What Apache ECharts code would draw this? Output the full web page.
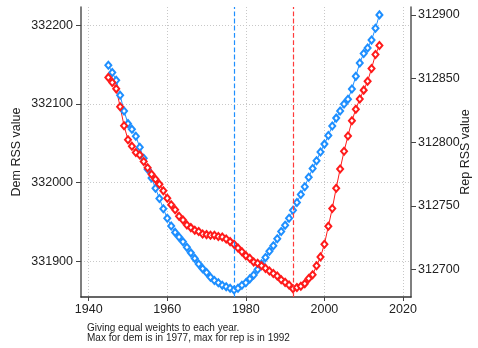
<!DOCTYPE html>
<html>
<head>
<meta charset="utf-8">
<script src="https://cdn.jsdelivr.net/npm/echarts@6/dist/echarts.min.js"></script>
<style>
html, body { margin: 0; padding: 0; background: #fff; }
#chart { width: 478px; height: 348px; }
</style>
</head>
<body>
<div id="chart"></div>
<script>
var years = [1945, 1946, 1947, 1948, 1949, 1950, 1951, 1952, 1953, 1954,
    1955, 1956, 1957, 1958, 1959, 1960, 1961, 1962, 1963, 1964,
    1965, 1966, 1967, 1968, 1969, 1970, 1971, 1972, 1973, 1974,
    1975, 1976, 1977, 1978, 1979, 1980, 1981, 1982, 1983, 1984,
    1985, 1986, 1987, 1988, 1989, 1990, 1991, 1992, 1993, 1994,
    1995, 1996, 1997, 1998, 1999, 2000, 2001, 2002, 2003, 2004,
    2005, 2006, 2007, 2008, 2009, 2010, 2011, 2012, 2013, 2014];

var demRss = [332149, 332140, 332130, 332111, 332091, 332075, 332068, 332059, 332045, 332031,
    332017, 332006, 331993, 331980, 331967, 331955, 331945, 331937, 331931, 331925,
    331918, 331911, 331904, 331897, 331891, 331886, 331880, 331876, 331873, 331870,
    331868, 331866, 331864, 331866, 331870, 331873, 331878, 331883, 331890, 331897,
    331905, 331913, 331920, 331929, 331938, 331946, 331955, 331965, 331975, 331985,
    331995, 332007, 332018, 332028, 332039, 332049, 332060, 332072, 332082, 332091,
    332100, 332106, 332119, 332135, 332152, 332164, 332171, 332181, 332196, 332213];

var repRss = [312851, 312847, 312842, 312828, 312813, 312802, 312797, 312792, 312790, 312785,
    312780, 312775, 312771, 312767, 312762, 312756, 312751, 312747, 312742, 312739,
    312735, 312733, 312731, 312730, 312728, 312727.5, 312727, 312727, 312726, 312725.6,
    312724, 312722, 312720, 312717, 312714, 312711, 312709, 312706, 312705, 312703,
    312701, 312699, 312697, 312695, 312692, 312690, 312688, 312685, 312686, 312687,
    312689, 312693, 312696, 312703, 312710, 312720, 312734, 312748, 312764, 312779,
    312793, 312805, 312817, 312826, 312834, 312841, 312848, 312858, 312869, 312876];

var xTicks = [1940, 1960, 1980, 2000, 2020];
var demTicks = [331900, 332000, 332100, 332200];
var repTicks = [312700, 312750, 312800, 312850, 312900];
var demMaxYear = 1977;
var repMaxYear = 1992;
var noteLines = ['Giving equal weights to each year.', 'Max for dem is in 1977, max for rep is in 1992'];

var blue = '#1E8FFF';
var red = '#FF1A1A';
var redDash = '#FF3B3B';
var font = "'Liberation Sans', Arial, sans-serif";

function pairs(xs, ys) {
    var out = [];
    for (var i = 0; i < xs.length; i++) {
        out.push([xs[i], ys[i]]);
    }
    return out;
}

function plain(v) {
    return String(v);
}

var chart = echarts.init(document.getElementById('chart'));

var sideLine = { show: true, lineStyle: { color: '#555', width: 1.5 } };
var baseLine = { show: true, lineStyle: { color: '#333', width: 1.5 } };
var gridLine = { show: true, lineStyle: { color: '#c8c8c8', type: [1, 2], width: 1 } };
var labelStyle = { color: '#222', fontSize: 12.5, fontFamily: font, formatter: plain };

var option = {
    animation: false,
    backgroundColor: '#fff',
    color: [blue, red],
    textStyle: { fontFamily: font },
    title: {
        text: noteLines.join('\n'),
        left: 82,
        top: 318,
        textStyle: { fontSize: 10, fontWeight: 'normal', color: '#222', lineHeight: 10, fontFamily: font }
    },
    grid: { left: 81, right: 67, top: 7, bottom: 51, containLabel: false, outerBoundsMode: 'none' },
    xAxis: {
        type: 'value',
        min: 1938.04,
        max: 2022.04,
        axisLine: baseLine,
        axisTick: { show: true, inside: false, length: 4, customValues: xTicks, lineStyle: { color: '#444' } },
        axisLabel: Object.assign({ margin: 6, customValues: xTicks }, labelStyle),
        splitLine: gridLine
    },
    yAxis: [
        {
            type: 'value',
            position: 'left',
            min: 331855,
            max: 332223,
            name: 'Dem RSS value',
            nameLocation: 'middle',
            nameRotate: 90,
            nameGap: 58,
            nameMoveOverlap: false,
            nameTextStyle: { color: '#222', fontSize: 12.5, fontFamily: font },
            axisLine: sideLine,
            axisTick: { show: true, length: 5, customValues: demTicks, lineStyle: { color: '#444' } },
            axisLabel: Object.assign({ margin: 8, customValues: demTicks }, labelStyle),
            splitLine: gridLine
        },
        {
            type: 'value',
            position: 'right',
            min: 312678.5,
            max: 312906.3,
            name: 'Rep RSS value',
            nameLocation: 'middle',
            nameRotate: 90,
            nameGap: 48,
            nameMoveOverlap: false,
            nameTextStyle: { color: '#222', fontSize: 12.5, fontFamily: font },
            axisLine: sideLine,
            axisTick: { show: true, length: 5, customValues: repTicks, lineStyle: { color: '#444' } },
            axisLabel: Object.assign({ margin: 7, customValues: repTicks }, labelStyle),
            splitLine: { show: false }
        }
    ],
    series: [
        {
            name: 'dem',
            type: 'line',
            yAxisIndex: 0,
            color: blue,
            data: pairs(years, demRss),
            symbol: 'emptyDiamond',
            symbolSize: [6, 7],
            lineStyle: { color: blue, width: 1 },
            itemStyle: { color: blue, borderWidth: 1.5 },
            markLine: {
                silent: true,
                symbol: 'none',
                precision: 0,
                label: { show: false },
                emphasis: { disabled: true },
                lineStyle: { type: 'dashed', width: 1.2, opacity: 1 },
                data: [
                    { xAxis: demMaxYear, lineStyle: { color: blue } },
                    { xAxis: repMaxYear, lineStyle: { color: redDash } }
                ]
            }
        },
        {
            name: 'rep',
            type: 'line',
            yAxisIndex: 1,
            color: red,
            data: pairs(years, repRss),
            symbol: 'emptyDiamond',
            symbolSize: [6, 7],
            lineStyle: { color: red, width: 1 },
            itemStyle: { color: red, borderWidth: 1.5 }
        }
    ]
};

chart.setOption(option);
</script>
</body>
</html>
